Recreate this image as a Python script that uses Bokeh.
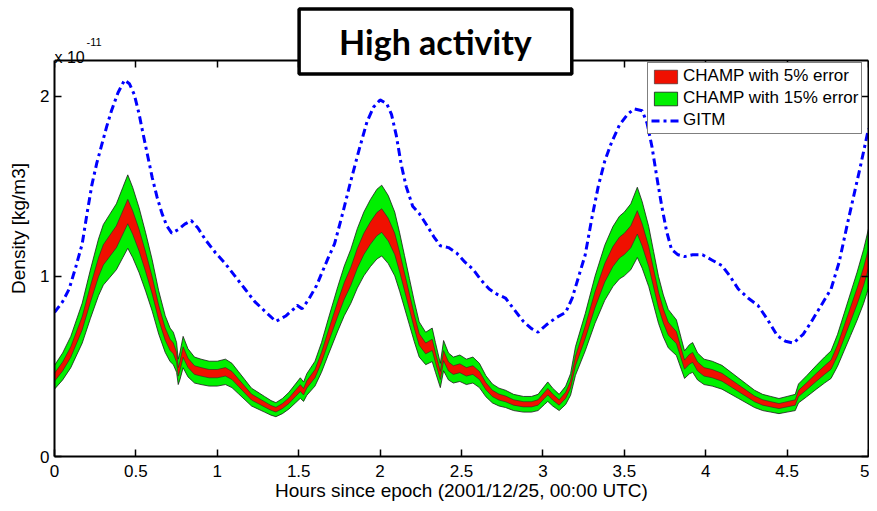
import numpy as np
from bokeh.plotting import figure
from bokeh.models import (Range1d, Label, FixedTicker, Legend, LegendItem, LinearAxis,
                          CustomJSTickFormatter)
from bokeh.embed import file_html
from bokeh.resources import INLINE

# ---------------- data (density in units of 1e-11 kg/m3) ----------------
hours_champ = [0.00, 0.05, 0.10, 0.17, 0.22, 0.27, 0.30, 0.34, 0.38, 0.42, 0.45, 0.48,
               0.52, 0.56, 0.60, 0.64, 0.68, 0.71, 0.73, 0.75, 0.76, 0.77, 0.79, 0.82,
               0.86, 0.90, 0.95, 1.00, 1.05, 1.09, 1.13, 1.17, 1.21, 1.25, 1.29, 1.33,
               1.36, 1.40, 1.44, 1.48, 1.51, 1.53, 1.55, 1.60, 1.64, 1.68, 1.74, 1.78,
               1.82, 1.86, 1.90, 1.94, 1.98, 2.01, 2.05, 2.09, 2.12, 2.15, 2.18, 2.21,
               2.24, 2.28, 2.32, 2.34, 2.37, 2.39, 2.42, 2.45, 2.49, 2.53, 2.57, 2.61,
               2.65, 2.69, 2.73, 2.77, 2.82, 2.88, 2.93, 2.97, 3.01, 3.03, 3.06, 3.10,
               3.14, 3.17, 3.20, 3.26, 3.32, 3.38, 3.43, 3.47, 3.50, 3.54, 3.58, 3.61,
               3.65, 3.68, 3.71, 3.74, 3.77, 3.80, 3.82, 3.85, 3.87, 3.90, 3.92, 3.95,
               3.99, 4.04, 4.10, 4.15, 4.20, 4.25, 4.30, 4.35, 4.40, 4.45, 4.50, 4.55,
               4.57, 4.62, 4.68, 4.73, 4.77, 4.81, 4.85, 4.89, 4.93, 4.97, 5.00]
champ_density = [0.44, 0.50, 0.58, 0.74, 0.90, 1.05, 1.12, 1.17, 1.22, 1.30, 1.36, 1.30,
                 1.20, 1.08, 0.95, 0.80, 0.68, 0.62, 0.60, 0.55, 0.47, 0.50, 0.58, 0.52,
                 0.48, 0.47, 0.46, 0.46, 0.47, 0.45, 0.41, 0.37, 0.33, 0.31, 0.29, 0.27,
                 0.26, 0.28, 0.31, 0.35, 0.38, 0.36, 0.40, 0.46, 0.55, 0.66, 0.82, 0.92,
                 1.00, 1.10, 1.18, 1.24, 1.29, 1.31, 1.26, 1.18, 1.08, 0.97, 0.86, 0.75,
                 0.65, 0.60, 0.62, 0.55, 0.45, 0.56, 0.50, 0.48, 0.49, 0.47, 0.48, 0.45,
                 0.39, 0.35, 0.33, 0.32, 0.30, 0.29, 0.29, 0.30, 0.34, 0.36, 0.33, 0.30,
                 0.34, 0.40, 0.53, 0.69, 0.87, 1.02, 1.11, 1.16, 1.18, 1.22, 1.30, 1.23,
                 1.11, 0.99, 0.87, 0.78, 0.71, 0.68, 0.66, 0.57, 0.51, 0.54, 0.55, 0.50,
                 0.47, 0.46, 0.44, 0.41, 0.38, 0.35, 0.32, 0.30, 0.29, 0.28, 0.29, 0.30,
                 0.35, 0.39, 0.44, 0.48, 0.51, 0.59, 0.69, 0.79, 0.89, 1.00, 1.10]

hours_gitm = [0.00, 0.05, 0.09, 0.13, 0.17, 0.20, 0.23, 0.26, 0.29, 0.32, 0.35, 0.39,
              0.43, 0.46, 0.49, 0.52, 0.54, 0.57, 0.60, 0.63, 0.66, 0.69, 0.72, 0.76,
              0.80, 0.84, 0.88, 0.93, 0.99, 1.05, 1.11, 1.17, 1.23, 1.30, 1.36, 1.42,
              1.47, 1.49, 1.52, 1.56, 1.61, 1.68, 1.72, 1.77, 1.82, 1.87, 1.92, 1.96,
              2.00, 2.04, 2.07, 2.10, 2.13, 2.16, 2.20, 2.24, 2.29, 2.33, 2.37, 2.42,
              2.47, 2.52, 2.57, 2.62, 2.67, 2.72, 2.77, 2.82, 2.88, 2.93, 2.97, 3.02,
              3.08, 3.14, 3.18, 3.22, 3.26, 3.30, 3.34, 3.38, 3.42, 3.47, 3.52, 3.56,
              3.61, 3.64, 3.67, 3.70, 3.73, 3.76, 3.79, 3.83, 3.87, 3.92, 3.98, 4.04,
              4.10, 4.15, 4.20, 4.26, 4.32, 4.38, 4.44, 4.49, 4.54, 4.60, 4.65, 4.71,
              4.77, 4.82, 4.87, 4.91, 4.95, 5.00]
gitm_density = [0.80, 0.86, 0.93, 1.05, 1.18, 1.35, 1.51, 1.63, 1.73, 1.83, 1.92, 2.02,
                2.09, 2.07, 2.01, 1.90, 1.81, 1.68, 1.55, 1.44, 1.35, 1.28, 1.24, 1.26,
                1.29, 1.31, 1.27, 1.20, 1.13, 1.07, 1.00, 0.93, 0.86, 0.80, 0.75, 0.78,
                0.82, 0.84, 0.82, 0.87, 0.95, 1.10, 1.18, 1.35, 1.53, 1.70, 1.86, 1.94,
                1.98, 1.96, 1.90, 1.78, 1.62, 1.50, 1.39, 1.35, 1.28, 1.22, 1.17, 1.16,
                1.13, 1.08, 1.04, 0.98, 0.93, 0.90, 0.88, 0.82, 0.75, 0.71, 0.69, 0.73,
                0.77, 0.80, 0.88, 1.00, 1.12, 1.32, 1.50, 1.64, 1.74, 1.84, 1.90, 1.93,
                1.92, 1.85, 1.72, 1.55, 1.39, 1.25, 1.15, 1.12, 1.11, 1.12, 1.12, 1.09,
                1.06, 1.00, 0.93, 0.88, 0.84, 0.76, 0.67, 0.64, 0.63, 0.68, 0.75, 0.84,
                0.93, 1.08, 1.29, 1.45, 1.61, 1.82]

error_small = 0.05
error_large = 0.15

x_ticks = [0, 0.5, 1, 1.5, 2, 2.5, 3, 3.5, 4, 4.5, 5]
x_tick_labels = ["0", "0.5", "1", "1.5", "2", "2.5", "3", "3.5", "4", "4.5", "5"]
y_ticks = [0, 1, 2]
y_tick_labels = ["0", "1", "2"]

# axes box limits (data units) and style constants
X_MIN, X_MAX = 0.0, 5.0
Y_MIN, Y_MAX = 0.0, 2.2
Y_FRAME_TOP = 2.532          # frame extends above the box for the title / exponent
FONT = "Liberation Sans"
TICK_LEN_PX = 7
BOX_W = 2

p = figure(width=869, height=503,
           x_range=Range1d(X_MIN, X_MAX), y_range=Range1d(Y_MIN, Y_FRAME_TOP),
           output_backend="svg", toolbar_location=None,
           min_border_left=54, min_border_right=1, min_border_top=0, min_border_bottom=45)
p.background_fill_color = "white"
p.border_fill_color = "white"
p.outline_line_color = None
p.xgrid.visible = False
p.ygrid.visible = False

hc = np.array(hours_champ)
dc = np.array(champ_density)
xs_poly = np.concatenate([hc, hc[::-1]])
green_poly = np.concatenate([dc * (1 - error_large), (dc * (1 + error_large))[::-1]])
red_poly = np.concatenate([dc * (1 - error_small), (dc * (1 + error_small))[::-1]])

g_green = p.patch(xs_poly, green_poly, fill_color="#00F000", line_color="#1a1a1a",
                  line_width=0.8)
g_red = p.patch(xs_poly, red_poly, fill_color="#F01000", line_color="#2a2a2a",
                line_width=0.6)
g_gitm = p.line(hours_gitm, gitm_density, line_color="#0000FF", line_width=3,
                line_dash="8 4 3 4")

blank = CustomJSTickFormatter(code="return ''")

for ax in (p.xaxis[0], p.yaxis[0]):
    ax.major_tick_in = TICK_LEN_PX
    ax.major_tick_out = 0
    ax.minor_tick_line_color = None
    ax.axis_line_color = "black"
    ax.axis_line_width = BOX_W
    ax.major_tick_line_color = "black"
    ax.major_tick_line_width = 1.5
    ax.major_label_text_font = FONT
    ax.major_label_text_font_size = "17px"
    ax.major_label_text_color = "black"
    ax.axis_label_text_font = FONT
    ax.axis_label_text_font_size = "19px"
    ax.axis_label_text_font_style = "normal"
    ax.axis_label_text_color = "black"

p.xaxis.ticker = FixedTicker(ticks=x_ticks)
p.xaxis.major_label_overrides = {t: l for t, l in zip(x_ticks, x_tick_labels)}
p.xaxis.axis_label = "Hours since epoch (2001/12/25, 00:00 UTC)"
p.xaxis.major_label_standoff = 8
p.xaxis.axis_label_standoff = 0

p.yaxis.ticker = FixedTicker(ticks=y_ticks)
p.yaxis.bounds = (Y_MIN, Y_MAX)
p.yaxis.major_label_overrides = {t: l for t, l in zip(y_ticks, y_tick_labels)}
p.yaxis.axis_label = "Density [kg/m3]"
p.yaxis.major_label_standoff = 5
p.yaxis.axis_label_standoff = 8

# top edge of the axes box: an axis fixed at Y_MAX with inward ticks, no labels
top_axis = LinearAxis(fixed_location=Y_MAX, bounds=(X_MIN, X_MAX),
                      ticker=FixedTicker(ticks=x_ticks), formatter=blank,
                      major_tick_in=TICK_LEN_PX, major_tick_out=0,
                      minor_tick_line_color=None, axis_line_color="black",
                      axis_line_width=BOX_W, major_tick_line_color="black",
                      major_tick_line_width=1.5, major_label_standoff=0)
p.add_layout(top_axis, "above")

# right edge of the axes box
right_axis = LinearAxis(bounds=(Y_MIN, Y_MAX), ticker=FixedTicker(ticks=y_ticks),
                        formatter=blank, major_tick_in=TICK_LEN_PX, major_tick_out=0,
                        minor_tick_line_color=None, axis_line_color="black",
                        axis_line_width=BOX_W, major_tick_line_color="black",
                        major_tick_line_width=1.5, major_label_standoff=0)
p.add_layout(right_axis, "right")

# legend (location = bottom-left corner, px from frame bottom-left)
legend = Legend(items=[LegendItem(label="CHAMP with 5% error", renderers=[g_red]),
                       LegendItem(label="CHAMP with 15% error", renderers=[g_green]),
                       LegendItem(label="GITM", renderers=[g_gitm])],
                location=(593, 322), padding=3, spacing=2,
                border_line_color="black", border_line_width=1,
                background_fill_color="white", background_fill_alpha=1,
                label_text_font=FONT, label_text_font_size="17px",
                label_text_color="black", label_standoff=3,
                glyph_width=29, glyph_height=17, label_height=20)
p.add_layout(legend)

# exponent label
p.add_layout(Label(x=0, y=2.217, text="x 10", text_font=FONT, text_font_size="16px",
                   text_color="black", text_baseline="alphabetic", text_align="left"))
p.add_layout(Label(x=0.197, y=2.30, text="-11", text_font=FONT, text_font_size="11px",
                   text_color="black", text_baseline="alphabetic", text_align="left"))

# boxed title
p.add_layout(Label(x=2.34, y=2.305, text="High activity", text_font="Lato",
                   text_font_style="bold", text_font_size="34px", text_color="black",
                   text_align="center", text_baseline="middle",
                   border_line_color="black", border_line_width=3.5,
                   background_fill_color="white", background_fill_alpha=1,
                   padding=dict(x=40, y=12)))

open("out.html", "w").write(file_html(p, INLINE))
